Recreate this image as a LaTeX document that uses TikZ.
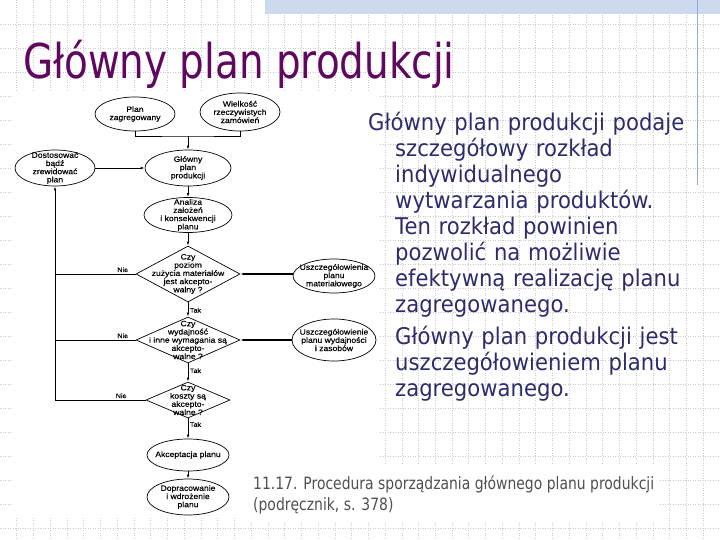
\documentclass[tikz,border=0pt]{standalone}
\usepackage{fontspec}
\setmainfont{Liberation Sans}
\newfontfamily\titlefont[FakeStretch=0.81]{DejaVu Sans}
\newfontfamily\bodyfont[FakeStretch=0.92]{DejaVu Sans}
\newfontfamily\capfont[FakeStretch=0.82]{DejaVu Sans}
\newfontfamily\flowfont[FakeStretch=1.1,FakeBold=0.4]{Liberation Sans}
\usetikzlibrary{positioning,arrows.meta,shapes.geometric}
\definecolor{titlepurple}{RGB}{96,8,96}
\definecolor{bodynavy}{RGB}{44,44,108}
\definecolor{capgray}{RGB}{80,80,80}
\definecolor{bandblue}{RGB}{204,217,238}
\definecolor{railblue}{RGB}{150,170,210}

\begin{document}
\begin{tikzpicture}[x=1pt,y=-1pt,>={Latex[length=4pt,width=2.6pt]},
  el/.style={draw,ellipse,line width=0.7pt,inner sep=0pt,minimum width=80pt,minimum height=34pt},
  dia/.style={draw,diamond,line width=0.7pt,inner sep=0pt},
  txt/.style={font=\flowfont\fontsize{7.8}{8.2}\selectfont,align=center,inner sep=0pt},
  lab/.style={font=\flowfont\fontsize{6.5}{7}\selectfont,inner sep=1.5pt},
  con/.style={line width=0.85pt},
  inarr/.style={black,line width=1.2pt},
  gridc/.style={gray!40,dotted,line width=0.5pt}]
\useasboundingbox (0,0) rectangle (720,540);
% slide background
\fill[white] (0,0) rectangle (720,540);
\foreach \i in {1,...,42} \draw[gridc] (\i*16.74,0) -- (\i*16.74,540);
\foreach \j in {1,...,22} \draw[gridc] (0,\j*24) -- (720,\j*24);
\fill[bandblue] (265,0) rectangle (720,14);
\draw[railblue,line width=0.8pt] (697,0) -- (697,185);
\fill[white] (13,92) rectangle (380,518);
\fill[white] (245,465) rectangle (660,521);
% title
\node[anchor=base west,inner sep=0pt,text=titlepurple,font=\titlefont\fontsize{48}{48}\selectfont] (TT) at (23,79) {Główny plan produkcji};
% flowchart: inputs
\node[el,label={[txt]center:{Plan\\zagregowany}}] (PZ) at (135,114) {};
\node[el,minimum height=38pt,label={[txt]center:{Wielkość\\rzeczywistych\\zamówień}}] (WZ) at (240,112) {};
\coordinate (brk) at (188,136);
\node[el,minimum width=86pt,minimum height=36pt,label={[txt]center:{Główny\\plan\\produkcji}}] (GP) at (188,168) {};
\node[el,minimum height=36pt,label={[txt]center:{Dostosować\\bądź\\zrewidować\\plan}}] (DB) at (55,168) {};
\node[el,minimum width=88pt,minimum height=35pt,label={[txt]center:{Analiza\\założeń\\i konsekwencji\\planu}}] (AN) at (188,215) {};
% decisions
\node[dia,minimum width=104pt,minimum height=56pt,label={[txt]center:{Czy\\poziom\\zużycia materiałów\\jest akcepto-\\walny ?}}] (D1) at (188,274) {};
\node[el,minimum width=82pt,label={[txt]center:{Uszczegółowienia\\planu\\materiałowego}}] (U1) at (334,276) {};
\node[dia,minimum width=104pt,minimum height=46pt,label={[txt]center:{Czy\\wydajność\\i inne wymagania są\\akcepto-\\walne ?}}] (D2) at (188,340) {};
\node[el,minimum width=84pt,minimum height=42pt,label={[txt]center:{Uszczegółowienie\\planu wydajności\\i zasobów}}] (U2) at (334,340) {};
\node[dia,minimum width=84pt,minimum height=36pt,label={[txt]center:{Czy\\koszty są\\akcepto-\\walne ?}}] (D3) at (188,400) {};
% outputs
\node[el,minimum width=82pt,minimum height=32pt,label={[txt]center:{Akceptacja planu}}] (AK) at (188,455) {};
\node[el,minimum width=82pt,minimum height=36pt,label={[txt]center:{Dopracowanie\\i wdrożenie\\planu}}] (DW) at (188,497) {};
% main flow
\draw[con] (PZ.south) |- (brk) -| (WZ.south);
\draw[con,->] (brk) -- (GP.north);
\draw[con,->] (DB.east) -- (GP.west);
\draw[con,->] (GP) -- (AN);
\draw[con,->] (AN) -- (D1);
\draw[con,->] (D1) -- node[lab,right,pos=0.55]{Tak} (D2);
\draw[con,->] (D2) -- node[lab,right,pos=0.4]{Tak} (D3);
\draw[con,->] (D3) -- node[lab,right,pos=0.3]{Tak} (AK);
\draw[con,->] (AK) -- (DW);
\draw[inarr,<-] (D1.east) -- (D1.east -| U1.west);
\draw[inarr,<-] (D2.east) -- (D2.east -| U2.west);
% back loop
\draw[con] (D1.west) -- node[lab,above,pos=0.16]{Nie} (D1.west -| DB.south);
\draw[con] (D2.west) -- node[lab,above,pos=0.16]{Nie} (D2.west -| DB.south);
\draw[con] (D3.west) -- node[lab,above,pos=0.27]{Nie} (D3.west -| DB.south);
\draw[con,->] (D3.west -| DB.south) -- (DB.south);
% slide text
\node[anchor=north west,inner sep=0pt,text width=330pt,align=left,text=bodynavy,font=\bodyfont\fontsize{23}{26}\selectfont] (BT) at (368,112)
  {\leftskip=27pt\hspace*{-27pt}Główny plan produkcji podaje\\szczegółowy rozkład\\indywidualnego\\wytwarzania produktów.\\Ten rozkład powinien\\pozwolić na możliwie\\efektywną realizację planu\\zagregowanego.\par\vspace{6pt}Główny plan produkcji jest\\uszczegółowieniem planu\\zagregowanego.\par};
\node[anchor=north west,inner sep=0pt,align=left,text=capgray,font=\capfont\fontsize{17}{21}\selectfont] (CP) at (253,476)
  {11.17. Procedura sporządzania głównego planu produkcji\\(podręcznik, s. 378)};
\end{tikzpicture}
\end{document}
